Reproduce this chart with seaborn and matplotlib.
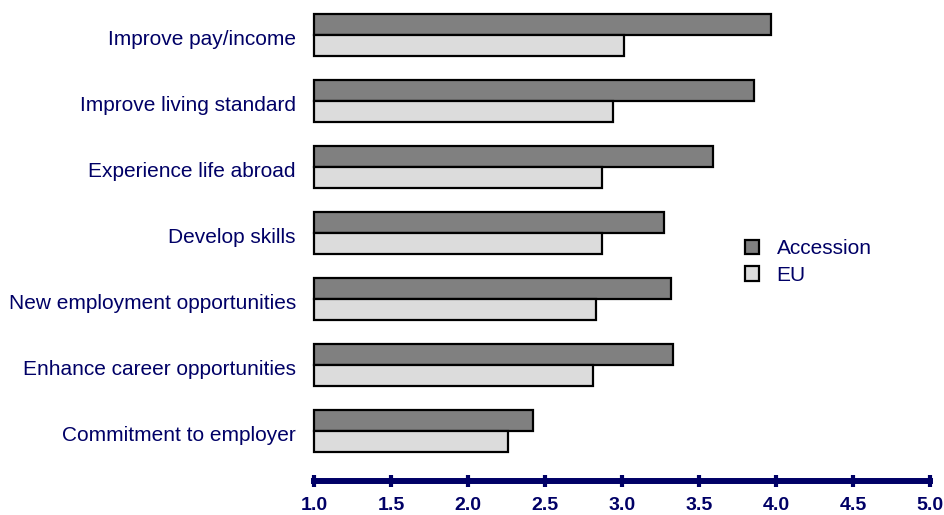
import matplotlib
matplotlib.use("Agg")
import matplotlib.pyplot as plt
import matplotlib.transforms as mtrans
import seaborn as sns
import pandas as pd

categories = ["Improve pay/income", "Improve living standard", "Experience life abroad",
              "Develop skills", "New employment opportunities",
              "Enhance career opportunities", "Commitment to employer"]
accession = [3.97, 3.86, 3.59, 3.27, 3.32, 3.33, 2.42]
eu = [3.01, 2.94, 2.87, 2.87, 2.83, 2.81, 2.26]
series = ["Accession", "EU"]
xticks = [1.0, 1.5, 2.0, 2.5, 3.0, 3.5, 4.0, 4.5, 5.0]

df = pd.DataFrame({
    "category": categories * 2,
    "value": accession + eu,
    "series": [series[0]] * len(categories) + [series[1]] * len(categories),
})

sns.set_theme(style="white")
plt.rcParams["font.family"] = ["Liberation Sans", "DejaVu Sans"]
navy = "#000066"

fig = plt.figure(figsize=(9.44, 5.15), dpi=100)
ax = fig.add_axes([314 / 944, 1 - 481 / 515, (930 - 314) / 944, 481 / 515])

sns.barplot(data=df, y="category", x="value", hue="series", order=categories,
            hue_order=series, palette=["#808080", "#dcdcdc"], width=0.64,
            orient="h", edgecolor="black", linewidth=1.6, ax=ax, saturation=1)

base = 1.0
for p in ax.patches:
    w = p.get_width()
    if w > 0:
        p.set_x(base)
        p.set_width(w - base)
        p.set_clip_on(False)

ax.set_xlim(1.0, 5.0)
ax.set_ylim(6.76, -0.53)
ax.set_xticks(xticks)
ax.set_xticklabels([f"{t:.1f}" for t in xticks], fontsize=14, fontweight="bold", color=navy)
ax.set_xlabel("")
ax.set_ylabel("")
for s in ["top", "right", "left"]:
    ax.spines[s].set_visible(False)
ax.spines["bottom"].set_color(navy)
ax.spines["bottom"].set_linewidth(4.3)
ax.tick_params(axis="x", direction="inout", length=8, width=3, color=navy, pad=7.5,
               bottom=True)
ax.tick_params(axis="y", length=0, pad=13, labelsize=15, labelcolor=navy)

shift = mtrans.ScaledTranslation(0, -1.8 / 72, fig.dpi_scale_trans)
for lab in ax.get_yticklabels():
    lab.set_transform(lab.get_transform() + shift)

leg = ax.legend(loc="center left", bbox_to_anchor=((745 - 314) / 616, 0.455),
                frameon=False, fontsize=15, handlelength=0.67, handleheight=0.67,
                handletextpad=0.85, labelspacing=0.35, borderpad=0, borderaxespad=0)
for t in leg.get_texts():
    t.set_color(navy)

fig.savefig("out.png", dpi=100)
